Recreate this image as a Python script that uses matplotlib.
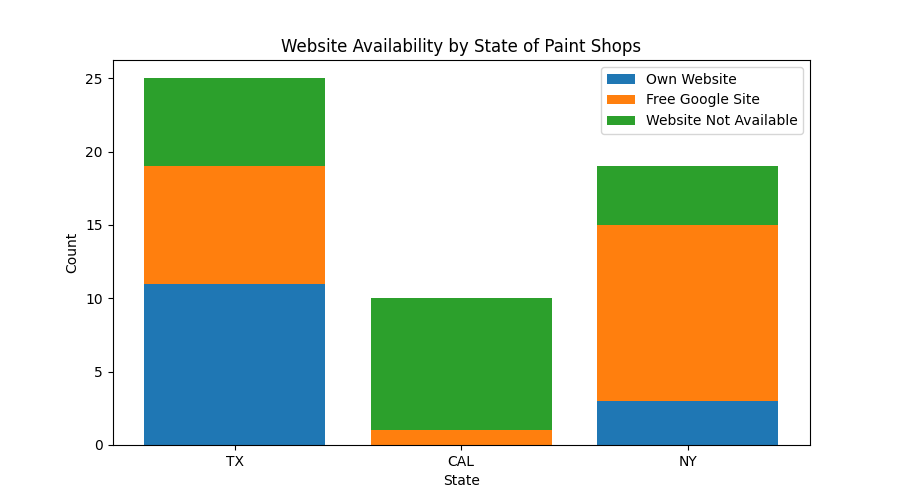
import numpy as np
import matplotlib.pyplot as plt

states = ["TX", "CAL", "NY"]
own_website = [11, 0, 3]
free_google = [8, 1, 12]
not_available = [6, 9, 4]

fig, ax = plt.subplots(figsize=(9, 5), dpi=100)

own = np.array(own_website)
free = np.array(free_google)

ax.bar(states, own_website, label="Own Website")
ax.bar(states, free_google, bottom=own, label="Free Google Site")
ax.bar(states, not_available, bottom=own + free, label="Website Not Available")

ax.set_title("Website Availability by State of Paint Shops")
ax.set_xlabel("State")
ax.set_ylabel("Count")
ax.legend()

plt.savefig("out.png")
